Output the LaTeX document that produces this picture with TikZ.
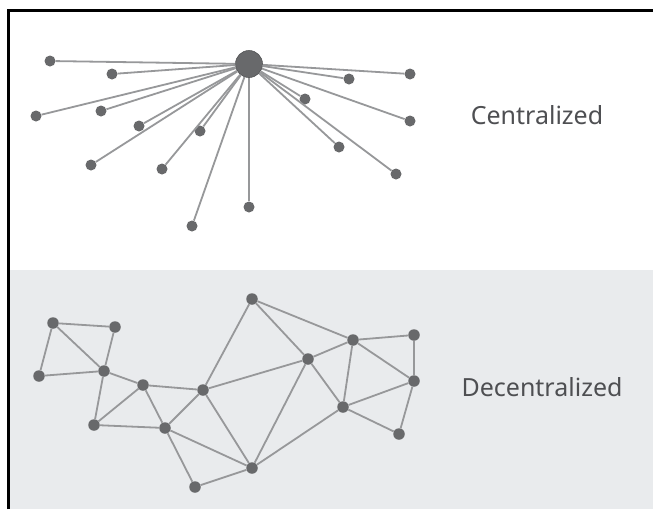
\documentclass[tikz,border=0pt]{standalone}
\usepackage{fontspec}
\setmainfont{Noto Sans}
\begin{document}
\begin{tikzpicture}[x=1pt,y=-1pt,
  hubdot/.style={circle,fill=dotgray,draw=dotgray!80!black,line width=0.6pt,inner sep=0pt,minimum size=27pt},
  leafdot/.style={circle,fill=dotgray,inner sep=0pt,minimum size=11pt},
  netdot/.style={circle,fill=dotgray,inner sep=0pt,minimum size=11.5pt},
  link/.style={draw=linegray,line width=1.8pt},
  caption/.style={text=textgray,font=\fontsize{25}{30}\selectfont,inner sep=0pt}]
\definecolor{dotgray}{HTML}{68696B}
\definecolor{linegray}{HTML}{97989A}
\definecolor{textgray}{HTML}{4E4F52}
\definecolor{panelgray}{HTML}{E9EBED}

% frame and panels
\useasboundingbox (0,0) rectangle (653,509);
\fill[white] (0,0) rectangle (653,509);
\fill[panelgray] (9,270) rectangle (653,509);
\draw[black,line width=2.6pt] (8.3,509) -- (8.3,10.4) -- (653,10.4);

% centralized network
\node[hubdot] (hub) at (249,64) {};
\foreach \name/\px/\py in {c1/50/61, c2/112/74, c3/36/116, c4/101/111, c5/139/126,
  c6/200/131, c7/91/165, c8/162/169, c9/192/226, c10/249/207, c11/349/79,
  c12/410/74, c13/305/99, c14/410/121, c15/339/147, c16/396/174}
  \node[leafdot] (\name) at (\px,\py) {};
\foreach \name in {c1,c2,c3,c4,c5,c6,c7,c8,c9,c10,c11,c12,c13,c14,c15,c16}
  \draw[link] (hub) -- (\name);
\node[caption] (ctext) at (537,115) {Centralized};

% decentralized network
\foreach \name/\px/\py in {A/53/323, B/115/327, C/39/376, D/104/371, E/143/385,
  F/94/425, G/165/428, H/203/390, I/252/299, J/252/468, K/195/487, L/308/359,
  M/353/340, N/414/335, O/414/381, P/343/407, Q/399/434}
  \node[netdot] (\name) at (\px,\py) {};
\foreach \a/\b in {A/B, A/C, A/D, B/D, C/D, D/E, D/F, E/F, E/G, F/G, E/H, G/H,
  G/K, G/J, K/J, H/I, H/J, H/L, I/L, I/M, J/L, J/P, L/M, L/P, M/N, M/O, M/P,
  N/O, O/P, O/Q, P/Q}
  \draw[link] (\a) -- (\b);
\node[caption] (dtext) at (542,387) {Decentralized};
\end{tikzpicture}
\end{document}
